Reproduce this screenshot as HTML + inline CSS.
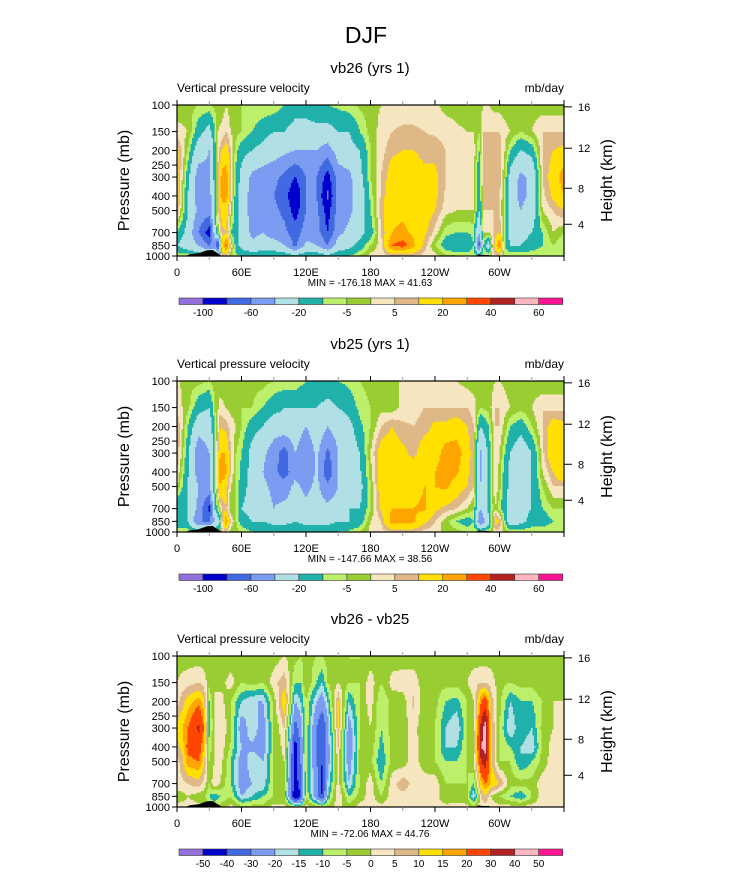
<!DOCTYPE html>
<html><head><meta charset="utf-8"><style>
body{margin:0;background:#fff}
svg text{font-family:"Liberation Sans",Arial,sans-serif;fill:#000}
</style></head><body>
<svg id="fig" width="733" height="872" viewBox="0 0 733 872" xmlns="http://www.w3.org/2000/svg">
<text x="366" y="43" font-size="23" text-anchor="middle">DJF</text>
</svg>
<script>
const levels=[100,150,200,300,400,500,700,850,1000];
const p1Lons=[0,10,20,30,35,38,42,46,50,55,60,70,80,90,100,110,120,130,140,150,160,170,180,190,200,210,220,230,240,250,260,270,276,281,285,290,295,300,305,310,320,330,340,350,360];
const p1Vals=[
[-3,2,12,15,15,10,-10,-20,-5],[-3,0,-5,-15,-20,-20,-25,-30,-5],[-5,-15,-30,-50,-50,-45,-60,-40,-10],[-5,-25,-40,-45,-50,-50,-90,-60,-10],
[-4,-10,-15,-15,-15,-15,-30,-50,-10],[-3,0,3,5,5,5,-5,-90,-10],[-3,2,10,25,25,15,8,15,5],[0,5,15,25,25,15,10,35,5],
[-3,0,5,5,5,0,-10,5,-5],[-5,-3,-8,-12,-15,-15,-15,-15,-8],[-5,-5,-15,-25,-25,-25,-25,-25,-10],[-5,-10,-20,-45,-50,-50,-45,-35,-10],
[-5,-15,-25,-50,-50,-50,-40,-30,-10],[-5,-20,-30,-55,-60,-55,-50,-30,-10],[-10,-20,-35,-65,-70,-65,-55,-40,-10],[-15,-25,-40,-80,-100,-90,-70,-65,-15],
[-15,-25,-40,-60,-60,-60,-50,-35,-10],[-10,-25,-40,-60,-60,-55,-50,-40,-10],[-10,-25,-50,-90,-105,-90,-80,-60,-15],[-8,-20,-30,-50,-50,-50,-45,-30,-10],
[-6,-20,-25,-45,-45,-45,-35,-25,-10],[-4,-10,-20,-25,-30,-30,-25,-15,-5],[-2,-3,-5,-5,-8,-10,-15,-5,2],[0,2,3,5,6,8,5,3,2],
[2,5,8,15,18,18,20,30,5],[2,6,10,18,18,18,22,35,5],[2,6,10,15,18,18,18,22,5],[2,5,8,12,15,15,12,8,3],
[1,4,8,12,12,10,3,-5,2],[-2,3,5,5,4,2,-8,-15,-3],[-2,1,3,5,3,0,-10,-20,-5],[-3,0,3,5,3,0,-10,-20,-5],
[-3,0,3,3,2,0,-8,-10,-5],[-3,-5,-10,-20,-20,-20,-40,-70,-5],[0,5,5,8,6,5,0,-10,-3],[0,5,8,5,5,5,0,-30,-5],
[-2,5,8,8,6,5,5,10,3],[-2,5,8,8,6,5,10,30,5],[-3,2,0,-5,-8,-8,-10,-10,-5],[-3,0,-10,-25,-30,-30,-25,-20,-5],
[-4,-5,-20,-45,-45,-40,-25,-20,-5],[-3,0,-15,-35,-35,-30,-20,-15,-5],[-3,5,5,5,3,0,-10,-10,-5],[-3,5,10,15,12,5,0,-5,-5],
[-3,5,12,25,20,10,-5,-10,-5]];
const p2Lons=[0,10,20,30,35,40,45,50,55,60,70,80,90,100,110,120,130,140,150,160,170,180,190,200,210,220,230,240,250,260,270,276,282,290,296,300,310,320,330,340,350,360];
const p2Vals=[
[1,3,10,10,5,0,-20,-20,-5],[-3,-3,-10,-15,-18,-20,-20,-20,-5],[-3,-15,-30,-55,-50,-40,-45,-60,-10],[-5,-20,-30,-40,-45,-45,-85,-60,-10],
[-3,-5,-10,-10,-10,-10,-20,-40,-10],[-3,2,10,20,25,20,0,-20,-5],[-3,0,8,20,22,15,10,30,5],[-3,-2,3,5,5,0,-5,5,-3],
[-3,-3,0,-5,-5,-5,-5,-5,-3],[-5,-5,-5,-10,-12,-15,-20,-15,-5],[-3,-5,-15,-25,-25,-25,-25,-20,-10],[-3,-10,-20,-35,-40,-35,-30,-20,-10],
[-5,-15,-30,-50,-55,-45,-40,-25,-10],[-5,-20,-25,-70,-70,-50,-35,-25,-10],[-5,-20,-25,-40,-45,-35,-30,-20,-10],[-10,-20,-40,-60,-60,-45,-35,-25,-10],
[-10,-20,-25,-35,-35,-35,-30,-25,-10],[-10,-25,-40,-65,-75,-55,-35,-25,-10],[-10,-20,-30,-40,-40,-40,-30,-20,-10],[-8,-15,-25,-30,-28,-25,-20,-20,-8],
[-5,-8,-12,-20,-22,-25,-20,-15,-5],[-3,-5,-5,0,-2,-5,-5,0,2],[-3,-2,5,15,15,15,12,5,3],[0,-3,10,15,15,18,20,25,5],
[0,2,6,12,15,15,20,25,5],[2,3,5,8,15,15,20,22,5],[2,5,7,15,15,20,22,12,3],[2,5,12,15,20,20,12,5,2],
[2,5,12,25,25,22,8,-3,-2],[0,5,15,25,22,15,5,-10,-3],[-2,5,10,15,12,10,0,-15,-5],[-3,3,5,5,5,5,-5,-10,-5],
[0,-5,-20,-45,-45,-40,-40,-60,-5],[-3,-3,-10,-15,-15,-15,-15,-25,-5],[0,5,5,5,5,5,0,15,3],[0,5,5,0,-2,-3,-8,10,3],
[-3,0,-10,-20,-25,-25,-25,-30,-5],[-3,-3,-15,-30,-30,-25,-25,-25,-5],[-3,0,-5,-20,-20,-20,-20,-15,-5],[-5,5,5,3,0,-5,-10,-15,-5],
[-3,3,15,20,10,5,-5,-10,-5],[-3,3,12,15,20,5,-5,-10,-5]];
const p3Lons=[0,5,10,20,25,30,35,40,50,60,70,80,90,100,110,115,120,130,135,140,150,160,170,180,190,200,210,220,230,240,250,260,270,276,283,287,292,300,310,320,330,340,350,360];
const p3Vals=[
[-3,0,3,12,8,3,3,-3,2],[-3,2,8,15,12,8,4,-2,2],[-3,3,12,20,22,18,5,0,2],[-3,5,18,32,25,20,8,-3,2],
[-3,3,12,20,15,12,3,-3,2],[-5,-3,-10,-12,-8,-5,-5,-10,-3],[-5,0,0,0,0,0,5,-15,-5],[-5,-3,3,5,4,3,0,-10,-3],
[-5,3,-5,-3,-6,-10,-10,-5,2],[-5,-5,-15,-25,-20,-25,-25,-20,-3],[-5,-3,-20,-15,-22,-15,-20,-15,-3],[-3,-5,-20,-25,-25,-20,-20,-10,-3],
[-3,3,-3,-5,-5,-5,-3,-5,2],[0,8,15,5,2,0,-5,-5,2],[-3,-10,-20,-35,-45,-45,-45,-50,-5],[-5,-10,-15,-25,-28,-30,-35,-40,-5],
[-3,0,-5,-5,-5,-5,-8,-5,2],[-5,-10,-20,-30,-30,-30,-25,-25,-3],[-5,-15,-25,-40,-40,-40,-45,-40,-5],[-3,-5,-15,-25,-25,-25,-20,-15,-3],
[-3,0,10,10,5,3,3,5,2],[-5,-5,-15,-25,-30,-25,-20,-10,-3],[-5,-5,-5,-5,-4,-3,-5,-3,2],[-3,3,3,0,-2,-3,3,3,2],
[-3,-5,-10,-10,-12,-15,-10,-5,2],[-3,2,-3,-3,-3,-3,3,3,2],[-3,3,-3,-3,-3,-3,8,3,2],[-3,3,6,3,3,3,3,3,2],
[-3,-3,-3,-5,-4,-3,3,3,2],[-3,-3,-3,-5,-5,-5,3,3,2],[-3,-3,-10,-15,-15,-10,-5,-5,2],[-3,-3,-12,-20,-15,-10,-5,-3,2],
[-3,0,-5,-5,-5,-5,-5,-5,2],[-3,3,0,0,0,0,-10,-20,-3],[-3,5,20,35,40,30,15,5,2],[-3,5,25,45,45,35,20,10,2],
[-3,3,8,12,12,12,15,0,2],[-3,-3,-3,-5,-5,-5,10,-5,2],[-3,-5,-15,-20,-10,-5,-3,-10,2],[-3,-3,-10,-10,-15,-15,-3,-15,2],
[-3,-3,-10,-15,-20,-10,-3,-5,2],[-3,0,-5,-3,-3,-3,3,3,2],[-3,0,0,0,2,3,3,3,2],[-3,-3,0,3,4,5,5,3,2]];
const bounds12=[-100,-80,-60,-40,-20,-10,-5,0,5,10,20,30,40,50,60];
const labels12=["-100","-60","-20","-5","5","20","40","60"];
const bounds3=[-50,-40,-30,-20,-15,-10,-5,0,5,10,15,20,30,40,50];
const labels3=["-50","-40","-30","-20","-15","-10","-5","0","5","10","15","20","30","40","50"];
const terrainLon=[0,8,12,20,28,33,38,42,278,281,284,290,292,296,298,301];
const terrainP=[1000,1000,975,960,915,912,960,1000,1000,975,985,985,1000,1000,990,1000];
const xTicks=[0,60,120,180,240,300];
const xTickLabels=["0","60E","120E","180","120W","60W"];
const pTicks=[100,150,200,250,300,400,500,700,850,1000];
const hTicks=[4,8,12,16];
const colors=["#9370DB","#0000CD","#4169E1","#7B9CF0","#B0E0E6","#20B2AA","#BDF06A","#9ACD32","#F5E6C0","#DEB887","#FFE000","#FFA500","#FF4500","#B22222","#FFB6C1","#FF1493"];

const NS="http://www.w3.org/2000/svg";
const svg=document.getElementById('fig');
const X0=177,W=387,H=151;
function mk(tag,attrs,parent){const e=document.createElementNS(NS,tag);for(const k in attrs)e.setAttribute(k,attrs[k]);(parent||svg).appendChild(e);return e;}
function xs(lon){return X0+lon/360*W;}
function ys(top,p){return top+H*Math.log10(p/100);}
function colorIdx(v,b){for(let i=0;i<b.length;i++)if(v<b[i])return i;return b.length;}
function sample(lons,vals,lon,p){
  let i=0;while(i<lons.length-2&&lon>lons[i+1])i++;
  const tx=Math.min(1,Math.max(0,(lon-lons[i])/(lons[i+1]-lons[i])));
  const lp=Math.log10(p);let j=0;while(j<levels.length-2&&lp>Math.log10(levels[j+1]))j++;
  const ty=Math.min(1,Math.max(0,(lp-Math.log10(levels[j]))/(Math.log10(levels[j+1])-Math.log10(levels[j]))));
  const a=vals[i][j]*(1-ty)+vals[i][j+1]*ty,b=vals[i+1][j]*(1-ty)+vals[i+1][j+1]*ty;
  return a*(1-tx)+b*tx;
}
function heightToP(z){const m=z*1000;if(m<=11000)return 1013.25*Math.pow(1-2.25577e-5*m,5.25588);return 226.32*Math.exp(-(m-11000)/6341.6);}

function panel(top,name,lons,vals,bounds,labels,allLabeled,subtitle,minmax){
  const g=mk('g',{});
  
  
  const st=mk('text',{x:370,y:top-32,'font-size':15,'text-anchor':'middle'},g);st.textContent=subtitle;
  
  const ls=mk('text',{x:177,y:top-13,'font-size':12},g);ls.textContent="Vertical pressure velocity";
  
  const rs=mk('text',{x:564,y:top-13,'font-size':12,'text-anchor':'end'},g);rs.textContent="mb/day";
  
  const field=mk('g',{'shape-rendering':'crispEdges'},g);
  
  const step=1.5;
  for(let py=0;py<H;py+=step){
    const p=100*Math.pow(10,(py+step/2)/H);
    let runStart=0,runC=-1;
    const nx=Math.ceil(W/step);
    for(let k=0;k<=nx;k++){
      let c=-2;
      if(k<nx){const lon=(k*step+step/2)/W*360;c=colorIdx(sample(lons,vals,lon,p),bounds);}
      if(c!==runC){
        if(runC>=0){const r=mk('rect',{x:X0+runStart*step,y:top+py,width:Math.min((k-runStart)*step+0.4,X0+W-(X0+runStart*step)),height:Math.min(step+0.4,H-py),fill:colors[runC]},field);
          }
        runStart=k;runC=c;
      }
    }
  }
  let d="";
  for(let i=0;i<terrainLon.length;i++){d+=(i===0?"M":"L")+xs(terrainLon[i]).toFixed(1)+","+ys(top,terrainP[i]).toFixed(1);}
  const terr=mk('path',{d:d+"Z",fill:'#000'},g);
  
  const fr=mk('rect',{x:X0,y:top,width:W,height:H,fill:'none',stroke:'#000','stroke-width':1.2},g);
  
  for(let lon=0;lon<=360;lon+=30){
    const x=xs(lon),maj=lon%60===0;
    const col=maj?'#000':'#999',len=maj?5:4;
    mk('line',{x1:x,x2:x,y1:top,y2:top-len,stroke:col},g);
    mk('line',{x1:x,x2:x,y1:top+H,y2:top+H+len,stroke:col},g);
  }
  xTicks.forEach((lon,i)=>{const t=mk('text',{x:xs(lon),y:top+H+20,'font-size':11,'text-anchor':'middle'},g);t.textContent=xTickLabels[i];
    });
  pTicks.forEach(p=>{const y=ys(top,p);mk('line',{x1:X0-5,x2:X0,y1:y,y2:y,stroke:'#000'},g);
    const t=mk('text',{x:X0-7,y:y+4,'font-size':11,'text-anchor':'end'},g);t.textContent=p;
    });
  hTicks.forEach(h=>{const y=ys(top,heightToP(h));mk('line',{x1:X0+W,x2:X0+W+8,y1:y,y2:y,stroke:'#000'},g);
    const t=mk('text',{x:X0+W+14,y:y+4,'font-size':11},g);t.textContent=h;
    });
  const yl=mk('text',{x:0,y:0,'font-size':16,'text-anchor':'middle',transform:`translate(129,${top+H/2}) rotate(-90)`},g);yl.textContent="Pressure (mb)";
  
  const hl=mk('text',{x:0,y:0,'font-size':16,'text-anchor':'middle',transform:`translate(612,${top+H/2}) rotate(-90)`},g);hl.textContent="Height (km)";
  
  const mm=mk('text',{x:370,y:top+H+30,'font-size':10,'text-anchor':'middle'},g);mm.textContent=minmax;
  
  const cb=mk('g',{},g);
  const cx0=179,cw=(562.7-179)/16,cy=top+193;
  colors.forEach((c,i)=>{const r=mk('rect',{x:cx0+i*cw,y:cy,width:cw,height:6.5,fill:c,stroke:'#333','stroke-width':0.6},cb);
    });
  bounds.forEach((b,i)=>{
    if(!allLabeled&&i%2!==0)return;
    const t=mk('text',{x:cx0+(i+1)*cw,y:cy+18,'font-size':10,'text-anchor':'middle'},cb);
    t.textContent=allLabeled?labels[i]:labels[i/2];
    
  });
}
panel(105,'panel-vb26',p1Lons,p1Vals,bounds12,labels12,false,"vb26 (yrs 1)","MIN = -176.18  MAX =  41.63");
panel(381,'panel-vb25',p2Lons,p2Vals,bounds12,labels12,false,"vb25 (yrs 1)","MIN = -147.66  MAX =  38.56");
panel(656,'panel-difference',p3Lons,p3Vals,bounds3,labels3,true,"vb26 - vb25","MIN = -72.06  MAX =  44.76");
</script>
</body></html>
